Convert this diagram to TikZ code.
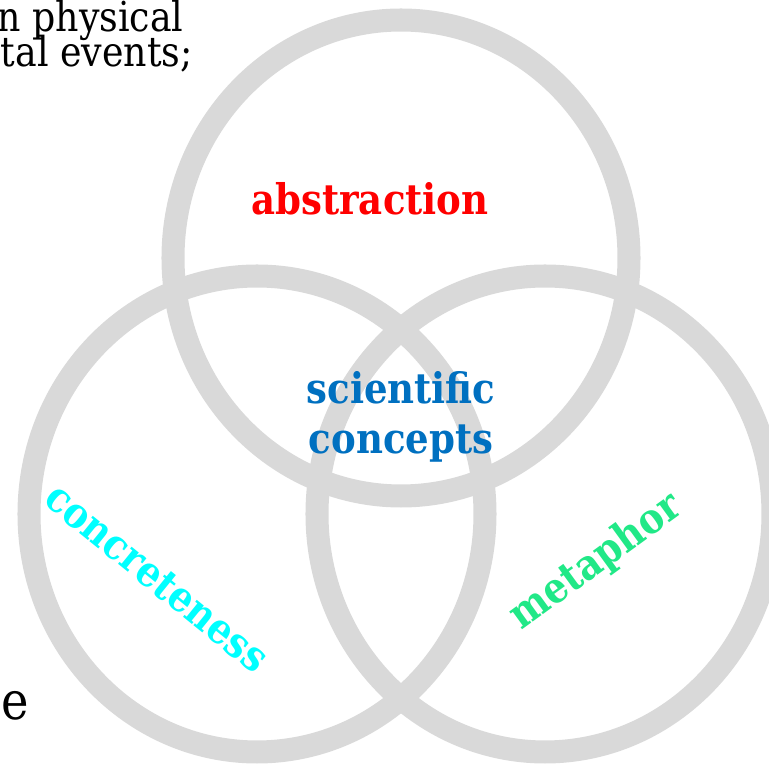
\documentclass[tikz,border=0pt]{standalone}
\usepackage{fontspec}
\setmainfont{DejaVu Serif}[FakeStretch=0.88]
\usetikzlibrary{positioning}
\definecolor{ringgray}{HTML}{D9D9D9}
\definecolor{sciblue}{HTML}{0070C0}
\definecolor{concyan}{HTML}{00FFFF}
\definecolor{metgreen}{HTML}{21E887}
\tikzset{
     ring/.style = {ringgray, line width=13.1pt},
     set label/.style = {font=\fontsize{24}{28.5}\selectfont\bfseries, align=center, inner sep=0pt},
     body text/.style = {font=\fontsize{23.5}{28}\selectfont, inner sep=0pt},
    }

\begin{document}
\begin{tikzpicture}[x=0.02cm, y=-0.02cm]
        \useasboundingbox (0,0) rectangle (769,766);
        \clip (0,0) rectangle (769,766);

        % running text around the figure
        \node [body text, anchor=base east] (line1) at (184,32)  {n physical};
        \node [body text, anchor=base east] (line2) at (193,67)  {tal events;};
        \node [body text, font=\fontsize{30}{36}\selectfont, anchor=base west] (tail) at (1,720) {e};

        % the three sets
        \coordinate (ctop)   at (401,258);
        \coordinate (cleft)  at (257,514);
        \coordinate (cright) at (545,514);
        \draw [ring] (ctop)   ellipse [x radius=228, y radius=238];
        \draw [ring] (cleft)  ellipse [x radius=228, y radius=238];
        \draw [ring] (cright) ellipse [x radius=228, y radius=238];

        \node [set label, red]      (abs)  at (370,199) {abstraction};
        \node [set label, sciblue]  (sci)  at (401,417) {scientific\\concepts};
        \node [set label, concyan, rotate=-39] (conc) at (157,578) {concreteness};
        \node [set label, metgreen, rotate=36] (meta) at (596,562) {metaphor};
    \end{tikzpicture}
\end{document}
